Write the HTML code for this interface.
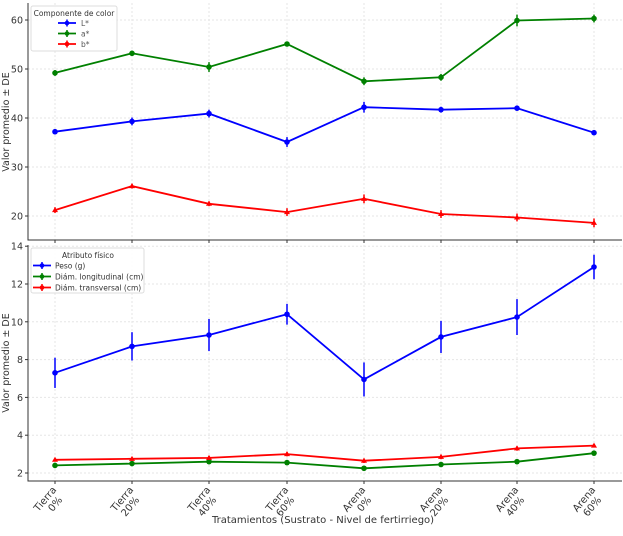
<!DOCTYPE html>
<html><head><meta charset="utf-8"><style>
html,body{margin:0;padding:0;background:#fff;}
svg{display:block;font-family:"DejaVu Sans","Liberation Sans",sans-serif;}
</style></head><body>
<svg id="s" width="623" height="536" viewBox="0 0 623 536" xmlns="http://www.w3.org/2000/svg"></svg>
<script>
const s=document.getElementById('s');let h='';
const X=[55,132,209,287,364,441,517,594];
function yT(v){return 216-(v-20)*4.9;}
function yB(v){return 473-(v-2)*18.9;}
X.forEach(x=>{h+=`<line x1="${x}" y1="3" x2="${x}" y2="240" stroke="#e6e6e6" stroke-dasharray="2,2"/>`;
h+=`<line x1="${x}" y1="245" x2="${x}" y2="481" stroke="#e6e6e6" stroke-dasharray="2,2"/>`;});
[20,30,40,50,60].forEach(v=>{const y=yT(v);h+=`<line x1="28" y1="${y}" x2="622" y2="${y}" stroke="#e6e6e6" stroke-dasharray="2,2"/>`;
h+=`<line x1="25" y1="${y}" x2="28" y2="${y}" stroke="#333"/><text x="23" y="${y+3.5}" font-size="9.5" text-anchor="end" fill="#333">${v}</text>`;});
[2,4,6,8,10,12,14].forEach(v=>{const y=yB(v);h+=`<line x1="28" y1="${y}" x2="622" y2="${y}" stroke="#e6e6e6" stroke-dasharray="2,2"/>`;
h+=`<line x1="25" y1="${y}" x2="28" y2="${y}" stroke="#333"/><text x="23" y="${y+3.5}" font-size="9.5" text-anchor="end" fill="#333">${v}</text>`;});
h+=`<polyline points="28,3 28,240 622,240" fill="none" stroke="#333" stroke-width="1"/>`;
h+=`<polyline points="28,245 28,481 622,481" fill="none" stroke="#333" stroke-width="1"/>`;
X.forEach(x=>{h+=`<line x1="${x}" y1="240" x2="${x}" y2="243" stroke="#333"/><line x1="${x}" y1="481" x2="${x}" y2="484" stroke="#333"/>`;});
function series(d,e,f,c,mk){let p=d.map((v,i)=>X[i]+','+f(v).toFixed(1)).join(' ');
h+=`<polyline points="${p}" fill="none" stroke="${c}" stroke-width="1.8"/>`;
d.forEach((v,i)=>{h+=`<line x1="${X[i]}" y1="${f(v+e[i])}" x2="${X[i]}" y2="${f(v-e[i])}" stroke="${c}" stroke-width="1.5"/>`;
if(mk=='o')h+=`<circle cx="${X[i]}" cy="${f(v)}" r="2.8" fill="${c}"/>`;else h+=`<path d="M${X[i]},${f(v)-3} L${X[i]+3},${f(v)+2} L${X[i]-3},${f(v)+2}Z" fill="${c}"/>`;});}
series([37.2,39.3,40.9,35.1,42.2,41.7,42.0,37.0],[0.4,0.8,0.8,1.0,1.1,0.6,0.5,0.4],yT,'#0000ff','o');
series([49.2,53.2,50.4,55.1,47.5,48.3,59.9,60.3],[0.6,0.5,1.0,0.5,0.8,0.7,1.2,0.8],yT,'#008000','o');
series([21.2,26.1,22.5,20.8,23.5,20.4,19.7,18.6],[0.6,0.5,0.5,0.8,0.9,0.8,0.8,0.9],yT,'#ff0000','t');
series([7.3,8.7,9.3,10.4,6.95,9.2,10.25,12.9],[0.8,0.75,0.85,0.55,0.9,0.85,0.95,0.65],yB,'#0000ff','o');
series([2.4,2.5,2.6,2.55,2.25,2.45,2.6,3.05],[0.05,0.05,0.05,0.08,0.06,0.06,0.06,0.12],yB,'#008000','o');
series([2.7,2.75,2.8,3.0,2.65,2.85,3.3,3.45],[0.06,0.08,0.1,0.12,0.12,0.12,0.12,0.08],yB,'#ff0000','t');
h+=`<rect x="31" y="6" width="86" height="45" rx="2" fill="#fff" fill-opacity="0.85" stroke="#ddd"/>`;
h+=`<text x="74" y="16" font-size="7.5" text-anchor="middle" fill="#333">Componente de color</text>`;
[['L*','#0000ff'],['a*','#008000'],['b*','#ff0000']].forEach((a,i)=>{const y=23+i*10.5;
h+=`<line x1="58" y1="${y}" x2="76" y2="${y}" stroke="${a[1]}" stroke-width="1.8"/><line x1="67" y1="${y-3.5}" x2="67" y2="${y+3.5}" stroke="${a[1]}" stroke-width="1.5"/><circle cx="67" cy="${y}" r="2.3" fill="${a[1]}"/><text x="81" y="${y+3}" font-size="7.5" fill="#555">${a[0]}</text>`;});
h+=`<rect x="31" y="248" width="113" height="45" rx="2" fill="#fff" fill-opacity="0.85" stroke="#ddd"/>`;
h+=`<text x="88" y="258" font-size="7.5" text-anchor="middle" fill="#333">Atributo físico</text>`;
[['Peso (g)','#0000ff'],['Diám. longitudinal (cm)','#008000'],['Diám. transversal (cm)','#ff0000']].forEach((a,i)=>{const y=265.5+i*11;
h+=`<line x1="33" y1="${y}" x2="51" y2="${y}" stroke="${a[1]}" stroke-width="1.8"/><line x1="42" y1="${y-3.5}" x2="42" y2="${y+3.5}" stroke="${a[1]}" stroke-width="1.5"/><circle cx="42" cy="${y}" r="2.3" fill="${a[1]}"/><text x="55" y="${y+3}" font-size="7.5" fill="#333">${a[0]}</text>`;});
h+=`<text transform="translate(9,122) rotate(-90)" font-size="9.5" text-anchor="middle" fill="#333">Valor promedio ± DE</text>`;
h+=`<text transform="translate(9,363) rotate(-90)" font-size="9.5" text-anchor="middle" fill="#333">Valor promedio ± DE</text>`;
const L=[['Tierra','0%'],['Tierra','20%'],['Tierra','40%'],['Tierra','60%'],['Arena','0%'],['Arena','20%'],['Arena','40%'],['Arena','60%']];
X.forEach((x,i)=>{h+=`<g transform="translate(${x+2},490) rotate(-50)" font-size="10" fill="#333" text-anchor="end"><text x="0" y="0">${L[i][0]}</text><text x="-4" y="11">${L[i][1]}</text></g>`;});
h+=`<text x="323" y="523" font-size="10" text-anchor="middle" fill="#333">Tratamientos (Sustrato - Nivel de fertirriego)</text>`;
s.innerHTML=h;
</script>
</body></html>
